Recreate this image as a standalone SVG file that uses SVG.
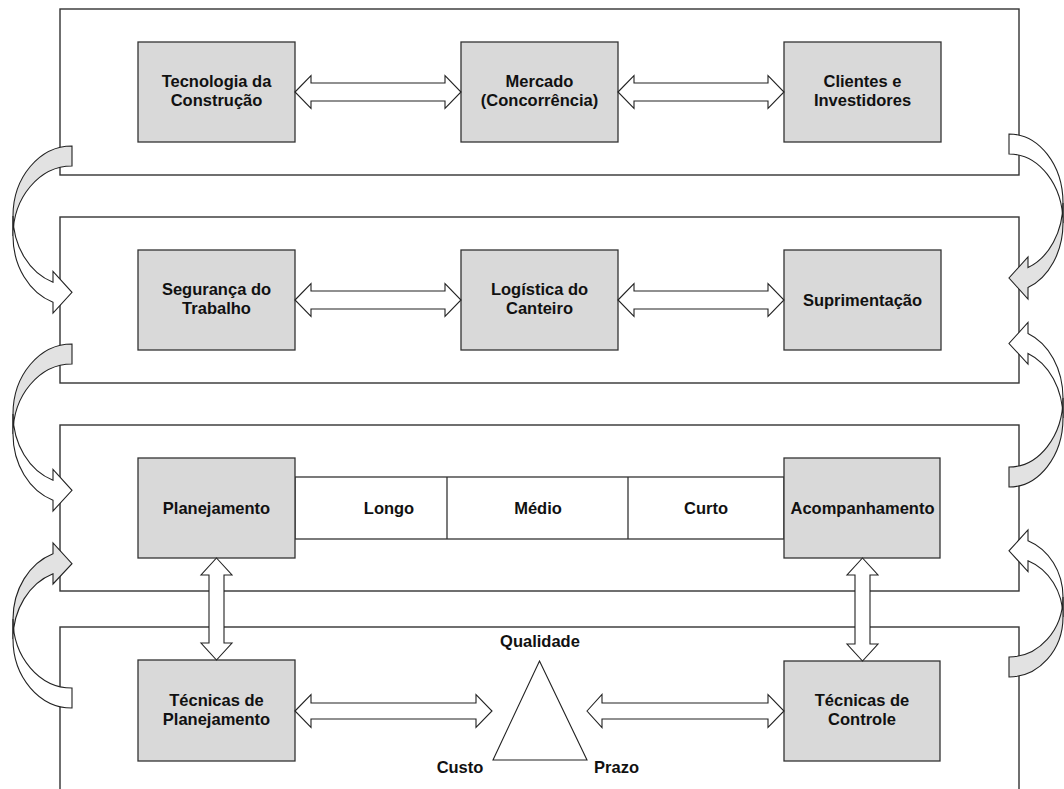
<svg xmlns="http://www.w3.org/2000/svg" width="1064" height="789" viewBox="0 0 1064 789">
<style>
.panel{fill:#fff;stroke:#333;stroke-width:1.4}
.box{fill:#d9d9d9;stroke:#333;stroke-width:1.3}
.cell{fill:#fff;stroke:#333;stroke-width:1.3}
.arr{fill:#fff;stroke:#222;stroke-width:1.1;stroke-linejoin:miter}
.cg{fill:#e2e2e2;stroke:#222;stroke-width:1.1}
.cw{fill:#fff;stroke:#222;stroke-width:1.1}
.tri{fill:#fff;stroke:#222;stroke-width:1.1}
text{font-family:"Liberation Sans",Arial,sans-serif;font-weight:bold;font-size:16.5px;fill:#111;text-anchor:middle}
</style>
<g id="panel1"><rect class="panel" x="60" y="9" width="959" height="166"/></g>
<g id="panel2"><rect class="panel" x="60" y="217" width="959" height="166"/></g>
<g id="panel3"><rect class="panel" x="60" y="425" width="959" height="166"/></g>
<g id="panel4"><rect class="panel" x="60" y="627" width="959" height="200"/></g>

<g id="tecnologia"><rect class="box" x="138" y="42" width="157" height="100"/><text x="216.5" y="87">Tecnologia da</text><text x="216.5" y="106">Construção</text></g>
<g id="mercado"><rect class="box" x="461" y="42" width="157" height="100"/><text x="539.5" y="87">Mercado</text><text x="539.5" y="106">(Concorrência)</text></g>
<g id="clientes"><rect class="box" x="784" y="42" width="157" height="100"/><text x="862.5" y="87">Clientes e</text><text x="862.5" y="106">Investidores</text></g>

<g id="seguranca"><rect class="box" x="138" y="250" width="157" height="100"/><text x="216.5" y="295">Segurança do</text><text x="216.5" y="314">Trabalho</text></g>
<g id="logistica"><rect class="box" x="461" y="250" width="157" height="100"/><text x="539.5" y="295">Logística do</text><text x="539.5" y="314">Canteiro</text></g>
<g id="suprimentacao"><rect class="box" x="784" y="250" width="157" height="100"/><text x="862.5" y="306">Suprimentação</text></g>

<g id="horizontes"><rect class="cell" x="295" y="477" width="489" height="62"/><line class="cell" x1="447" y1="477" x2="447" y2="539"/><line class="cell" x1="628" y1="477" x2="628" y2="539"/></g>
<g id="longo"><text x="389" y="514">Longo</text></g>
<g id="medio"><text x="538" y="514">Médio</text></g>
<g id="curto"><text x="706" y="514">Curto</text></g>
<g id="planejamento"><rect class="box" x="138" y="458" width="157" height="100"/><text x="216.5" y="514">Planejamento</text></g>
<g id="acompanhamento"><rect class="box" x="784" y="458" width="156" height="100"/><text x="862.5" y="514">Acompanhamento</text></g>

<g id="tecnicas-planejamento"><rect class="box" x="138" y="660" width="157" height="101"/><text x="216.5" y="706">Técnicas de</text><text x="216.5" y="725">Planejamento</text></g>
<g id="tecnicas-controle"><rect class="box" x="784" y="661" width="156" height="100"/><text x="862" y="706">Técnicas de</text><text x="862" y="725">Controle</text></g>
<g id="triangulo"><polygon class="tri" points="539.5,661 587,760 493,760"/><text x="540" y="647">Qualidade</text><text x="460" y="773">Custo</text><text x="616.5" y="773">Prazo</text></g>

<g id="connectors">
<path class="arr" d="M295 92 L311 75.5 L311 83 L445 83 L445 75.5 L461 92 L445 108.5 L445 101 L311 101 L311 108.5 Z"/>
<path class="arr" d="M618 92 L634 75.5 L634 83 L768 83 L768 75.5 L784 92 L768 108.5 L768 101 L634 101 L634 108.5 Z"/>
<path class="arr" d="M295 300 L311 283.5 L311 291 L445 291 L445 283.5 L461 300 L445 316.5 L445 309 L311 309 L311 316.5 Z"/>
<path class="arr" d="M618 300 L634 283.5 L634 291 L768 291 L768 283.5 L784 300 L768 316.5 L768 309 L634 309 L634 316.5 Z"/>
<path class="arr" d="M295 711 L311 694.5 L311 703 L476 703 L476 694.5 L492 711 L476 727.5 L476 719 L311 719 L311 727.5 Z"/>
<path class="arr" d="M587 711 L602 694.5 L602 703 L768 703 L768 694.5 L784 711 L768 727.5 L768 719 L602 719 L602 727.5 Z"/>
<path class="arr" d="M216.5 558 L232 575 L224 575 L224 643 L232 643 L216.5 660 L201 643 L209 643 L209 575 L201 575 Z"/>
<path class="arr" d="M862.5 558 L878 575 L870 575 L870 644 L878 644 L862.5 661 L847 644 L855 644 L855 575 L847 575 Z"/>

<path class="cg" d="M72 146 A59 70 0 0 0 13 216 L13 236 A59 70 0 0 1 72 166 Z"/>
<path class="cw" d="M13 216 A59 70 0 0 0 53 282.3 L53 271.5 L72 292.3 L53 313 L53 302.3 A59 70 0 0 1 13 236 Z"/>
<path class="cg" d="M72 344 A59 70 0 0 0 13 414 L13 434 A59 70 0 0 1 72 364 Z"/>
<path class="cw" d="M13 414 A59 70 0 0 0 53 480.3 L53 469.5 L72 490.3 L53 511 L53 500.3 A59 70 0 0 1 13 434 Z"/>
<path class="cg" d="M13 619 A59 69 0 0 1 53 553.7 L53 543 L72 563.7 L53 584 L53 573.7 A59 69 0 0 0 13 639 Z"/>
<path class="cw" d="M13 619 A59 69 0 0 0 72 688 L72 708 A59 69 0 0 1 13 639 Z"/>

<path class="cw" d="M1009 134 A54 69 0 0 1 1063 203 L1063 223 A54 69 0 0 0 1009 154 Z"/>
<path class="cg" d="M1063 203 A54 69 0 0 1 1028 267.6 L1028 257 L1009 278 L1028 299 L1028 287.6 A54 69 0 0 0 1063 223 Z"/>
<path class="cw" d="M1063 398 A54 69 0 0 0 1028 333.4 L1028 322.5 L1009 343.5 L1028 364 L1028 353.4 A54 69 0 0 1 1063 418 Z"/>
<path class="cg" d="M1063 398 A54 69 0 0 1 1009 467 L1009 487 A54 69 0 0 0 1063 418 Z"/>
<path class="cw" d="M1063 597 A54 60 0 0 0 1028 540.8 L1028 530 L1009 550.8 L1028 571.5 L1028 560.8 A54 60 0 0 1 1063 617 Z"/>
<path class="cg" d="M1063 597 A54 60 0 0 1 1009 657 L1009 677 A54 60 0 0 0 1063 617 Z"/>
</g>
</svg>
